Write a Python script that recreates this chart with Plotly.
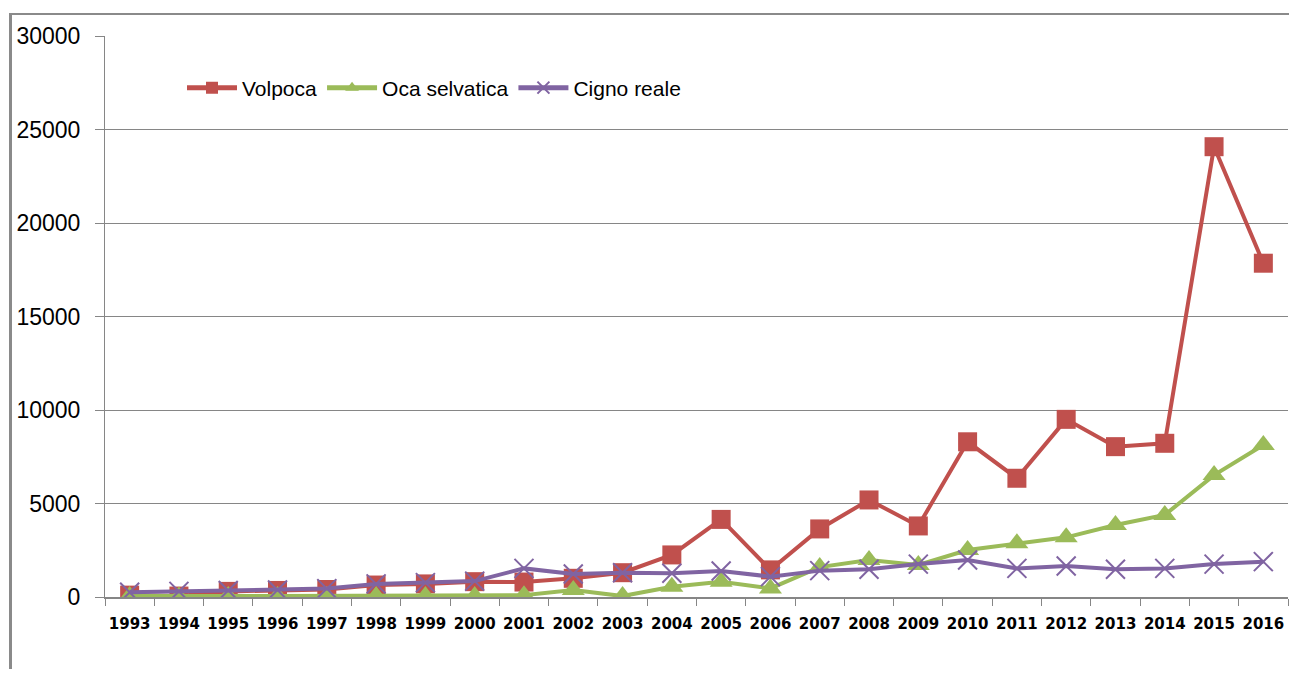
import plotly.graph_objects as go

years = [str(y) for y in range(1993, 2017)]
volpoca = [100, 50, 300, 350, 400, 640, 700, 820, 800, 1000, 1300, 2250, 4150, 1450,
           3640, 5190, 3800, 8300, 6350, 9500, 8040, 8220, 24080, 17850]
oca = [50, 30, 50, 50, 50, 50, 50, 50, 100, 370, 50, 550, 820, 460,
       1600, 1980, 1710, 2510, 2870, 3190, 3850, 4390, 6520, 8130]
cigno = [250, 300, 350, 370, 450, 700, 770, 850, 1530, 1230, 1300, 1270, 1390, 1090,
         1410, 1480, 1760, 1980, 1530, 1660, 1480, 1530, 1760, 1890]

# page body has an 8px margin; design in window pixel coords and shift
OFF = 8
W, H = 1297 - 2 * OFF, 677 - 2 * OFF
L, T = 105 - OFF, 36 - OFF
R = 1
B = H - (597 - OFF)
pw, ph = W - L - R, H - T - B

def px(x):
    return (x - OFF - L) / pw

def py(y):
    return (H - B - (y - OFF)) / ph

fig = go.Figure()
fig.add_trace(go.Scatter(x=years, y=volpoca, name="Volpoca", mode="lines+markers",
                         line=dict(color="#C0504D", width=4),
                         marker=dict(symbol="square", size=19, color="#C0504D")))
fig.add_trace(go.Scatter(x=years, y=oca, name="Oca selvatica", mode="lines+markers",
                         line=dict(color="#9BBB59", width=4),
                         marker=dict(symbol="triangle-up", size=20, color="#9BBB59")))
fig.add_trace(go.Scatter(x=years, y=cigno, name="Cigno reale", mode="lines+markers",
                         line=dict(color="#8064A2", width=4),
                         marker=dict(symbol="x-thin", size=19, color="#8064A2",
                                     line=dict(color="#8064A2", width=2))))

fig.update_layout(
    width=W, height=H,
    margin=dict(l=L, r=R, t=T, b=B),
    paper_bgcolor="white", plot_bgcolor="white",
    font=dict(family="Liberation Sans, Arial, sans-serif", color="black"),
    legend=dict(orientation="h", x=px(182), y=py(88), xanchor="left", yanchor="middle",
                font=dict(size=21, family="Liberation Sans, Arial, sans-serif"),
                itemwidth=50, itemsizing="constant", bgcolor="rgba(0,0,0,0)",
                tracegroupgap=0),
    showlegend=True,
    xaxis=dict(type="category", range=[-0.5, 23.5], showgrid=False,
               showline=True, linecolor="#868686", linewidth=2,
               ticks="outside", tickson="boundaries", ticklen=7, tickcolor="#868686",
               tickfont=dict(size=15, family="DejaVu Sans", weight="bold", color="black"),
               tickangle=0, ticklabelstandoff=12, fixedrange=True),
    yaxis=dict(range=[0, 30000], dtick=5000, showgrid=True, gridcolor="#868686", gridwidth=1,
               showline=True, linecolor="#868686", linewidth=1,
               ticks="outside", ticklen=9, tickcolor="#868686",
               tickfont=dict(size=23, color="black"), tickformat="d",
               ticklabelstandoff=10, zeroline=False, fixedrange=True),
    shapes=[
        dict(type="line", xref="paper", yref="paper", x0=px(10.5), x1=px(10.5),
             y0=py(14), y1=py(680), line=dict(color="#8A8A8A", width=3)),
        dict(type="line", xref="paper", yref="paper", x0=px(9), x1=px(1300),
             y0=py(14), y1=py(14), line=dict(color="#8A8A8A", width=2)),
    ],
)

fig.write_html("out.html")
